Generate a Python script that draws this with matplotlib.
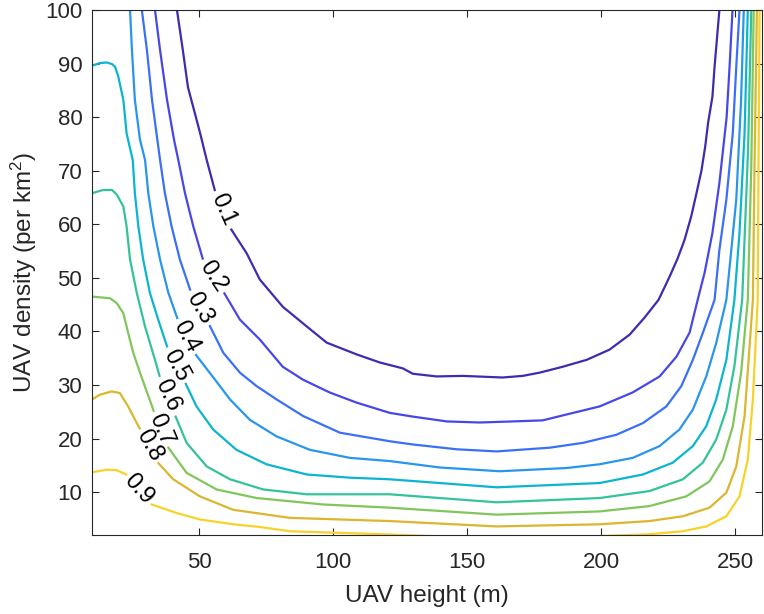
import numpy as np
import matplotlib
matplotlib.use("Agg")
import matplotlib.pyplot as plt

plt.rcParams["font.family"] = ["Liberation Sans", "DejaVu Sans"]
plt.rcParams["mathtext.fontset"] = "custom"
plt.rcParams["mathtext.rm"] = "Liberation Sans"
plt.rcParams["mathtext.it"] = "Liberation Sans:italic"

nan = np.nan

# contour levels (NaN = gap where the inline label sits)
levels = [0.1, 0.2, 0.3, 0.4, 0.5, 0.6, 0.7, 0.8, 0.9]

h_01 = [41.7, 43.9, 45.8, 50.3, 52.8, 55.8, nan, 62.0, 67.7, 72.6, 81.2, 90.2, 97.6,
        108.8, 117.4, 126.0, 129.7, 138.6, 148.3, 163.2, 170.7, 177.0, 185.6, 194.6,
        203.1, 210.6, 216.2, 221.4, 225.5, 228.5, 231.1, 233.6, 235.6, 237.4, 238.8,
        239.9, 241.5, 242.3, 244.1]
d_01 = [100, 92.5, 85.6, 77.1, 72.0, 66.4, nan, 59.0, 54.6, 49.7, 44.6, 40.9, 37.9,
        35.7, 34.2, 33.1, 32.1, 31.6, 31.7, 31.4, 31.7, 32.3, 33.4, 34.7,
        36.6, 39.4, 42.6, 45.9, 50.2, 53.6, 57.1, 61.5, 65.9, 70.0, 74.5,
        79.0, 83.8, 89.4, 100]

h_02 = [33.5, 35.4, 38.0, 40.6, 42.2, 44.7, 47.8, 51.3, nan, 59.4, 65.2, 72.6, 81.2,
        88.7, 98.7, 108.8, 121.1, 129.7, 142.4, 154.7, 167.0, 178.2, 187.1, 199.4,
        211.7, 221.8, 228.1, 233.0, 236.0, 238.6, 241.5, 244.1, 246.8, 247.9, 249.0]
d_02 = [100, 92.5, 83.2, 75.8, 72.0, 65.8, 59.6, 53.6, nan, 47.1, 42.2, 38.5, 33.4,
        31.0, 28.6, 26.7, 24.8, 24.1, 23.2, 23.0, 23.2, 23.4, 24.5, 26.0,
        28.6, 31.6, 35.3, 39.8, 45.9, 51.0, 58.4, 67.7, 80.0, 89.4, 100]

h_03 = [28.6, 30.5, 32.4, 35.4, 37.2, 39.7, 42.8, 46.6, nan, 54.0, 59.0, 65.2, 71.4,
        78.9, 88.8, 102.5, 121.1, 129.7, 146.1, 161.0, 180.8, 193.2, 205.6, 215.6,
        224.3, 229.9, 234.2, 237.9, 242.3, 244.1, 246.7, 249.1, 250.4, 251.6]
d_03 = [100, 92.5, 83.2, 72.0, 65.8, 59.6, 53.4, 47.8, nan, 41.0, 36.0, 32.3, 29.8,
        27.3, 24.2, 21.1, 19.5, 18.9, 18.0, 17.6, 18.3, 19.2, 20.7, 22.9,
        26.0, 29.8, 34.7, 39.7, 45.9, 55.2, 64.6, 77.0, 89.4, 100]

h_04 = [24.2, 24.9, 26.0, 27.9, 29.8, 31.0, 32.9, 35.4, 38.5, 41.8, nan, 48.8, 55.9,
        61.5, 68.9, 78.9, 91.3, 106.2, 121.1, 139.8, 162.1, 187.0, 199.4, 211.8,
        221.8, 229.2, 234.2, 239.2, 242.9, 246.7, 250.4, 252.2, 253.2]
d_04 = [100, 92.5, 83.2, 75.8, 72.0, 65.8, 59.6, 53.4, 47.2, 42.5, nan, 35.6, 31.0,
        27.3, 23.5, 20.4, 17.9, 16.4, 15.8, 14.6, 13.9, 14.5, 15.2, 16.4,
        18.6, 21.7, 25.4, 31.6, 37.8, 45.9, 64.6, 83.2, 100]

h_05 = [10.0, 13.0, 15.5, 17.5, 18.6, 19.8, 21.7, 22.9, 25.2, 26.0, 27.3, 29.1, 31.6,
        34.7, 38.0, nan, 45.0, 49.0, 55.2, 63.9, 75.1, 90.1, 106.2, 121.1, 161.0,
        199.4, 215.6, 226.7, 234.2, 239.2, 242.9, 246.7, 249.7, 251.6, 253.5, 254.7]
d_05 = [89.6, 90.1, 90.2, 89.9, 89.4, 87.6, 83.2, 77.0, 72.0, 65.8, 59.6, 53.4, 47.2,
        42.2, 37.2, nan, 30.2, 26.0, 21.7, 17.9, 15.2, 13.3, 12.7, 12.4, 10.9,
        11.7, 13.3, 15.5, 18.6, 22.3, 27.3, 34.7, 45.9, 58.4, 77.1, 100]

h_06 = [10.0, 14.1, 17.5, 19.3, 21.7, 22.9, 24.2, 26.7, 29.8, 33.5, 35.2, nan, 41.2,
        45.3, 52.8, 61.5, 73.9, 90.1, 121.1, 161.0, 199.4, 218.0, 230.5, 237.9,
        242.9, 246.7, 249.7, 252.6, 254.8, 256.0]
d_06 = [65.8, 66.4, 66.4, 65.5, 63.3, 59.6, 53.4, 47.2, 40.9, 34.7, 31.7, nan, 24.1,
        19.2, 14.8, 12.4, 10.5, 9.6, 9.6, 8.1, 8.9, 10.2, 12.4, 15.5,
        19.8, 25.4, 33.5, 45.9, 73.9, 100]

h_07 = [10.0, 16.7, 19.2, 21.7, 23.5, 25.4, 27.9, 33.0, nan, 38.5, 45.3, 56.5, 71.4,
        96.2, 121.1, 161.0, 199.4, 218.0, 231.7, 240.4, 245.4, 249.1, 252.2, 254.7,
        256.0, 256.9]
d_07 = [46.5, 46.2, 45.3, 43.4, 39.7, 36.0, 32.3, 25.2, nan, 18.3, 13.6, 10.5, 8.9,
        7.7, 7.1, 5.8, 6.4, 7.4, 9.2, 12.0, 16.1, 22.3, 32.3, 45.9,
        70.8, 100]

h_08 = [10.0, 13.0, 17.3, 20.4, 23.5, 26.7, 27.8, nan, 34.8, 40.3, 50.3, 62.7, 83.8,
        121.1, 161.0, 199.4, 218.0, 230.5, 240.4, 246.7, 250.4, 253.5, 256.6, 257.2,
        258.1]
d_08 = [27.3, 28.2, 28.8, 28.5, 26.0, 22.9, 21.9, nan, 15.4, 12.4, 9.2, 6.7, 5.2,
        4.6, 3.6, 4.0, 4.6, 5.5, 7.1, 9.9, 14.8, 24.2, 45.9, 70.8,
        100]

h_09 = [10.0, 15.5, 19.2, 22.8, nan, 32.3, 41.6, 50.3, 62.7, 72.6, 83.8, 121.1, 165.0,
        216.8, 230.5, 239.2, 246.7, 251.6, 254.7, 256.6, 258.4, 258.7, 259.1]
d_09 = [13.7, 14.2, 14.1, 13.3, nan, 7.7, 6.1, 4.9, 4.0, 3.5, 2.7, 2.1, 1.2,
        2.1, 2.7, 3.6, 5.5, 9.2, 16.1, 27.3, 45.9, 70.8, 100]

heights = [h_01, h_02, h_03, h_04, h_05, h_06, h_07, h_08, h_09]
densities = [d_01, d_02, d_03, d_04, d_05, d_06, d_07, d_08, d_09]

# inline label anchors (height, density) and text angle
label_h = [58.8, 55.3, 50.3, 45.3, 41.5, 38.2, 35.7, 31.3, 27.5]
label_d = [62.7, 50.3, 44.4, 39.1, 33.7, 28.0, 21.7, 18.7, 10.5]
label_rot = [-66, -57, -60, -62, -62, -65, -67, -61, -48]

# parula-like line colours
colors = ["#3e2bb0", "#4747e8", "#3a6ff8", "#2896ec", "#0bb5cf",
          "#33c39a", "#80c65c", "#dbb62f", "#f8d22a"]

fig = plt.figure(figsize=(7.64, 6.14), dpi=100)
ax = fig.add_axes([92 / 764, 79 / 614, 670 / 764, 525 / 614])

for lev, hx, dy, c in zip(levels, heights, densities, colors):
    ax.plot(hx, dy, color=c, lw=1.6, solid_joinstyle="round")

for lev, lx, ly, r in zip(levels, label_h, label_d, label_rot):
    ax.text(lx, ly, f"{lev:g}", rotation=r, rotation_mode="anchor",
            ha="center", va="center", fontsize=17, color="black")

ax.set_xlim(10, 260)
ax.set_ylim(2, 100)
ax.set_xticks([50, 100, 150, 200, 250])
ax.set_yticks(np.arange(10, 101, 10))
ax.tick_params(direction="in", length=5, width=0.8, top=True, right=True,
               labelsize=16, colors="#262626")
ax.tick_params(axis="x", pad=12)
ax.tick_params(axis="y", pad=7)
for s in ax.spines.values():
    s.set_color("#262626")
    s.set_linewidth(0.8)

ax.set_xlabel("UAV height (m)", fontsize=17.5, color="#262626", labelpad=9)
ax.set_ylabel("UAV density (per km$^2$)", fontsize=17.5, color="#262626", labelpad=4)

fig.savefig("out.png", dpi=100, facecolor="white")
